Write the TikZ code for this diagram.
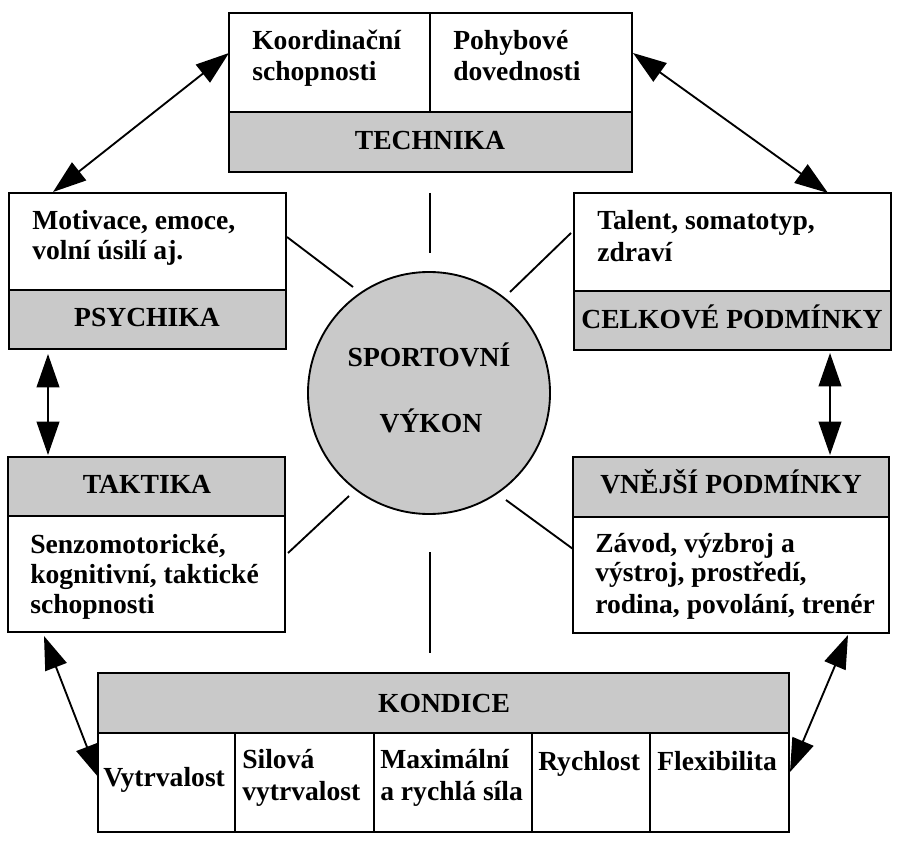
\documentclass[tikz,border=0pt]{standalone}
\usepackage{fontspec}
\setmainfont{Liberation Serif}
\usetikzlibrary{arrows.meta,fit}
\begin{document}
\begin{tikzpicture}[x=0.75pt,y=-0.75pt,
  lw/.style={line width=1.4pt},
  boxw/.style={draw, lw, fill=white, inner sep=0pt},
  boxg/.style={draw, lw, fill=black!21, inner sep=0pt},
  txt/.style={font=\bfseries\fontsize{20.7}{24}\selectfont, inner sep=0pt, anchor=base west},
  ctxt/.style={font=\bfseries\fontsize{20.7}{24}\selectfont, inner sep=0pt, anchor=base},
  dbl/.style={lw, {Triangle[length=25pt,width=17pt]}-{Triangle[length=25pt,width=17pt]}},
  spoke/.style={lw}]
\useasboundingbox (0,0) rectangle (902,841);

% TECHNIKA
\node[boxw, fit={(229,13) (430,112)}] (tk1) {};
\node[boxw, fit={(430,13) (632,112)}] (tk2) {};
\node[boxg, fit={(229,112) (632,172)}] (tkg) {};
\node[txt] (tk1a) at (252,50) {Koordinační};
\node[txt] (tk1b) at (252,81) {schopnosti};
\node[txt] (tk2a) at (453,50) {Pohybové};
\node[txt] (tk2b) at (453,81) {dovednosti};
\node[ctxt] (tkt) at (430,150) {TECHNIKA};

% PSYCHIKA
\node[boxw, fit={(9,193) (286,290)}] (ps1) {};
\node[boxg, fit={(9,290) (286,349)}] (psg) {};
\node[txt] (ps1a) at (32,230) {Motivace, emoce,};
\node[txt] (ps1b) at (32,260) {volní úsilí aj.};
\node[ctxt] (pst) at (147,326) {PSYCHIKA};

% CELKOVE PODMINKY
\node[boxw, fit={(574,193) (891,291)}] (ce1) {};
\node[boxg, fit={(574,291) (891,350)}] (ceg) {};
\node[txt] (ce1a) at (597,230) {Talent, somatotyp,};
\node[txt] (ce1b) at (597,262) {zdraví};
\node[ctxt] (cet) at (732,328) {CELKOVÉ PODMÍNKY};

% TAKTIKA
\node[boxg, fit={(8,457) (285,516)}] (tag) {};
\node[boxw, fit={(8,516) (285,632)}] (ta1) {};
\node[ctxt] (tat) at (147,493) {TAKTIKA};
\node[txt] (ta1a) at (30,553) {Senzomotorické,};
\node[txt] (ta1b) at (30,583) {kognitivní, taktické};
\node[txt] (ta1c) at (30,613) {schopnosti};

% VNEJSI PODMINKY
\node[boxg, fit={(573,457) (889,517)}] (vng) {};
\node[boxw, fit={(573,517) (889,633)}] (vn1) {};
\node[ctxt] (vnt) at (731,493) {VNĚJŠÍ PODMÍNKY};
\node[txt] (vn1a) at (595,552) {Závod, výzbroj a};
\node[txt] (vn1b) at (595,581) {výstroj, prostředí,};
\node[txt] (vn1c) at (595,613) {rodina, povolání, trenér};

% KONDICE
\node[boxg, fit={(98,673) (789,733)}] (kog) {};
\node[boxw, fit={(98,733) (235,832)}] (ko1) {};
\node[boxw, fit={(235,733) (374,832)}] (ko2) {};
\node[boxw, fit={(374,733) (532,832)}] (ko3) {};
\node[boxw, fit={(532,733) (650,832)}] (ko4) {};
\node[boxw, fit={(650,733) (789,832)}] (ko5) {};
\node[ctxt] (kot) at (444,712) {KONDICE};
\node[txt] (ko1a) at (103,786) {Vytrvalost};
\node[txt] (ko2a) at (242,768) {Silová};
\node[txt] (ko2b) at (242,800) {vytrvalost};
\node[txt] (ko3a) at (380,768) {Maximální};
\node[txt] (ko3b) at (380,800) {a rychlá síla};
\node[txt] (ko4a) at (538,770) {Rychlost};
\node[txt] (ko5a) at (657,770) {Flexibilita};

% SPORTOVNI VYKON
\node[draw, lw, fill=black!21, circle, minimum size=181.5pt, inner sep=0pt] (sv) at (429,393) {};
\node[ctxt] (sva) at (429,366) {SPORTOVNÍ};
\node[ctxt] (svb) at (431,432) {VÝKON};

% spokes
\coordinate (s1a) at (430,193); \coordinate (s1b) at (430,253);
\coordinate (s2a) at (430,552); \coordinate (s2b) at (430,653);
\coordinate (s3a) at (287,237); \coordinate (s3b) at (353,287);
\coordinate (s4a) at (571,233); \coordinate (s4b) at (510,292);
\coordinate (s5a) at (288,553); \coordinate (s5b) at (349,496);
\coordinate (s6a) at (573,549); \coordinate (s6b) at (506,500);
\draw[spoke] (s1a) -- (s1b);
\draw[spoke] (s2a) -- (s2b);
\draw[spoke] (s3a) -- (s3b);
\draw[spoke] (s4a) -- (s4b);
\draw[spoke] (s5a) -- (s5b);
\draw[spoke] (s6a) -- (s6b);

% arrows
\coordinate (a1a) at (53,192);  \coordinate (a1b) at (229,53);
\coordinate (a2a) at (633,53);  \coordinate (a2b) at (828,193);
\coordinate (a3a) at (48,354);  \coordinate (a3b) at (48,455);
\coordinate (a4a) at (830,353); \coordinate (a4b) at (830,455);
\coordinate (a5a) at (44,636);  \coordinate (a5b) at (99,778);
\coordinate (a6a) at (848,635); \coordinate (a6b) at (790,772);
\draw[dbl] (a1a) -- (a1b);
\draw[dbl] (a2a) -- (a2b);
\draw[dbl] (a3a) -- (a3b);
\draw[dbl] (a4a) -- (a4b);
\draw[dbl] (a5a) -- (a5b);
\draw[dbl] (a6a) -- (a6b);
\end{tikzpicture}
\end{document}
